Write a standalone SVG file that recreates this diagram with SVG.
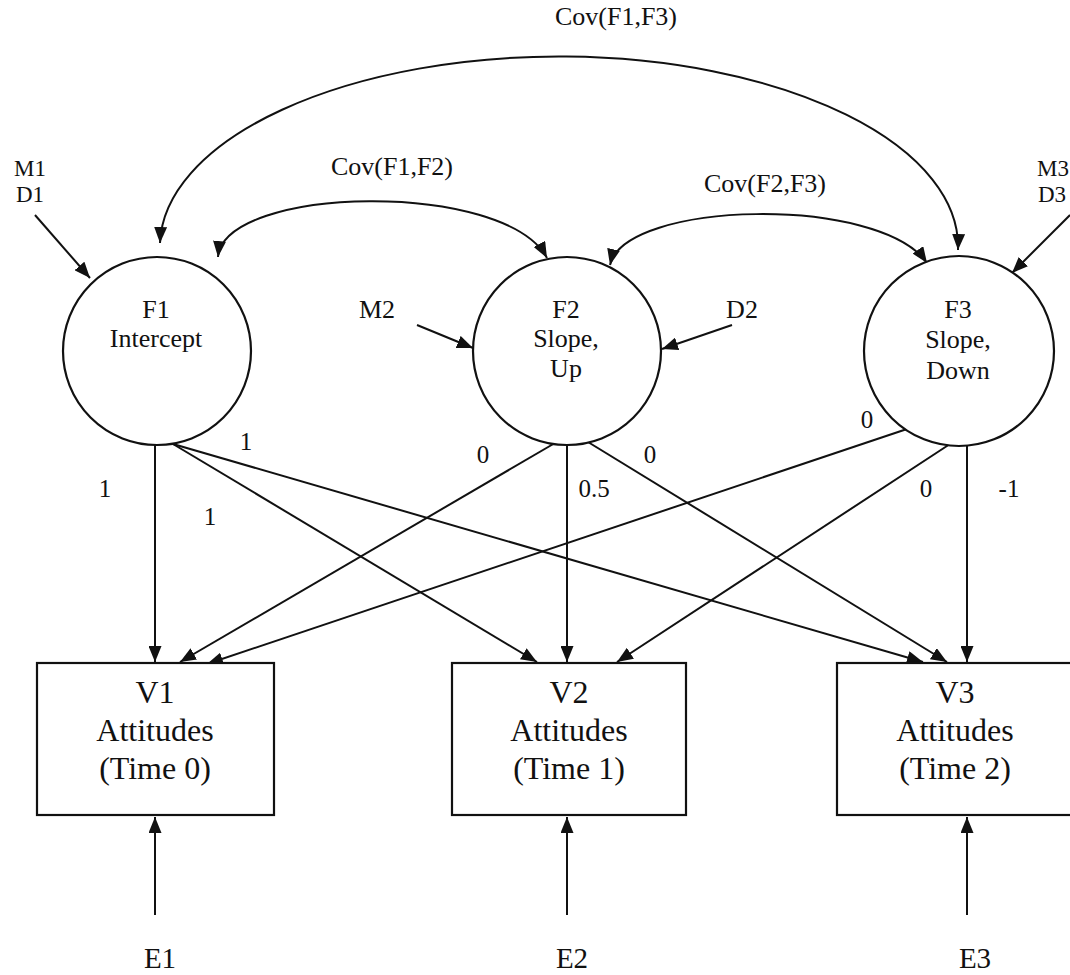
<svg xmlns="http://www.w3.org/2000/svg" width="1070" height="975" viewBox="0 0 1070 975">
<style>
text{font-family:"Liberation Serif","Times New Roman",serif;fill:#111;text-anchor:middle}
.c{fill:#fff;stroke:#111;stroke-width:2.2}
.b{fill:#fff;stroke:#111;stroke-width:2.2}
.n{font-size:26px}
.m{font-size:23px}
.v{font-size:32px}
.l{font-size:26px}
.p{font-size:25px}
.e{font-size:29px}
.s{font-size:23px;text-anchor:start}
#connectors path,#connectors line{fill:none;stroke:#111;stroke-width:2;marker-end:url(#ah)}
#connectors .two{marker-start:url(#ah)}
</style>
<defs>
<marker id="ah" viewBox="0 0 16 13" refX="16" refY="6.5" markerWidth="16" markerHeight="13" markerUnits="userSpaceOnUse" orient="auto-start-reverse">
<path d="M0,0 L16,6.5 L0,13 z" fill="#111"/>
</marker>
</defs>
<rect width="1070" height="975" fill="#fff"/>

<g id="connectors">
<path class="two" d="M 160 243 A 399 190 0 0 1 958 250"/>
<path class="two" d="M 218 257 C 225 185, 505 180, 547 258"/>
<path class="two" d="M 610 265 C 625 200, 880 195, 927 263"/>
<line x1="35" y1="215" x2="90" y2="278"/>
<line x1="1070" y1="215" x2="1012" y2="273"/>
<line x1="417" y1="325" x2="473" y2="348"/>
<line x1="732" y1="325" x2="662" y2="349"/>
<line x1="155" y1="445" x2="155" y2="662"/>
<line x1="173" y1="444" x2="537" y2="662"/>
<line x1="173" y1="444" x2="923" y2="662"/>
<line x1="555" y1="443" x2="180" y2="662"/>
<line x1="567" y1="445" x2="567" y2="662"/>
<line x1="588" y1="442" x2="947" y2="662"/>
<line x1="907" y1="429" x2="207" y2="664"/>
<line x1="950" y1="444" x2="617" y2="662"/>
<line x1="967" y1="445" x2="967" y2="662"/>
<line x1="155" y1="915" x2="155" y2="817"/>
<line x1="567" y1="915" x2="567" y2="817"/>
<line x1="967" y1="915" x2="967" y2="817"/>
</g>

<g id="F1">
<circle class="c" cx="157" cy="351" r="94"/>
<text class="n" x="156" y="318">F1</text>
<text class="n" x="156" y="347">Intercept</text>
</g>
<g id="F2">
<circle class="c" cx="567" cy="351" r="94"/>
<text class="n" x="566" y="318">F2</text>
<text class="n" x="566" y="347">Slope,</text>
<text class="n" x="566" y="377">Up</text>
</g>
<g id="F3">
<circle class="c" cx="959" cy="351" r="95"/>
<text class="n" x="958" y="318">F3</text>
<text class="n" x="958" y="348">Slope,</text>
<text class="n" x="958" y="379">Down</text>
</g>

<g id="V1">
<rect class="b" x="37" y="663" width="237" height="152"/>
<text class="v" x="155" y="703">V1</text>
<text class="v" x="155" y="741">Attitudes</text>
<text class="v" x="155" y="779">(Time 0)</text>
</g>
<g id="V2">
<rect class="b" x="452" y="663" width="234" height="152"/>
<text class="v" x="569" y="703">V2</text>
<text class="v" x="569" y="741">Attitudes</text>
<text class="v" x="569" y="779">(Time 1)</text>
</g>
<g id="V3">
<rect class="b" x="837" y="663" width="236" height="152"/>
<text class="v" x="955" y="703">V3</text>
<text class="v" x="955" y="741">Attitudes</text>
<text class="v" x="955" y="779">(Time 2)</text>
</g>

<g id="E1"><text class="e" x="160" y="968">E1</text></g>
<g id="E2"><text class="e" x="572" y="968">E2</text></g>
<g id="E3"><text class="e" x="975" y="968">E3</text></g>

<g id="M1D1">
<text class="m" x="30" y="176">M1</text>
<text class="m" x="30" y="202">D1</text>
</g>
<g id="M3D3">
<text class="s" x="1037" y="176">M3</text>
<text class="s" x="1038" y="202">D3</text>
</g>
<g id="M2"><text class="n" x="377" y="318">M2</text></g>
<g id="D2"><text class="n" x="742" y="318">D2</text></g>

<g id="labels">
<text class="l" x="616" y="25">Cov(F1,F3)</text>
<text class="l" x="392" y="175">Cov(F1,F2)</text>
<text class="l" x="765" y="192">Cov(F2,F3)</text>
<text class="p" x="105" y="497">1</text>
<text class="p" x="246" y="450">1</text>
<text class="p" x="210" y="525">1</text>
<text class="p" x="483" y="463">0</text>
<text class="p" x="594" y="497">0.5</text>
<text class="p" x="650" y="463">0</text>
<text class="p" x="867" y="428">0</text>
<text class="p" x="926" y="497">0</text>
<text class="p" x="1009" y="497">-1</text>
</g>
</svg>
